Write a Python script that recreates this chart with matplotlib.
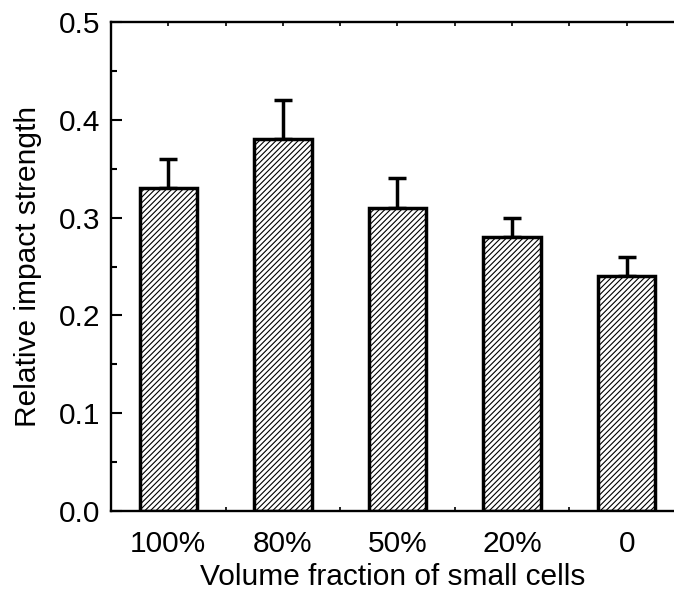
import numpy as np
import matplotlib.pyplot as plt
from matplotlib.ticker import MultipleLocator

plt.rcParams['font.family'] = ['Liberation Sans', 'DejaVu Sans']
plt.rcParams['hatch.linewidth'] = 0.8

labels = ['100%', '80%', '50%', '20%', '0']
strength = [0.33, 0.38, 0.31, 0.28, 0.24]
err_up = [0.03, 0.04, 0.03, 0.02, 0.02]

x = np.arange(1, len(labels) + 1)

fig = plt.figure(figsize=(6.74, 5.96), dpi=100)
ax = fig.add_axes([0.1647, 0.1426, 0.8353, 0.8205])

ax.bar(x, strength, width=0.5, color='white', edgecolor='black',
       linewidth=2.5, hatch='//////', zorder=2)
ax.errorbar(x, strength, yerr=[np.zeros(len(x)), err_up], fmt='none',
            ecolor='black', elinewidth=2.5, capsize=6.5, capthick=2.5, zorder=1)

ax.set_xlim(0.5, 5.413)
ax.set_ylim(0, 0.5)

ax.set_xticks(x)
ax.set_xticklabels(labels)
ax.xaxis.set_minor_locator(MultipleLocator(0.5))
ax.yaxis.set_major_locator(MultipleLocator(0.1))
ax.yaxis.set_minor_locator(MultipleLocator(0.05))
ax.yaxis.set_major_formatter(plt.FormatStrFormatter('%.1f'))

ax.spines['right'].set_visible(False)
for s in ['left', 'top', 'bottom']:
    ax.spines[s].set_linewidth(1.7)

ax.tick_params(axis='y', which='major', direction='in', length=8, width=1.5,
               labelsize=21.5, pad=8)
ax.tick_params(axis='y', which='minor', direction='in', length=4.5, width=1.5)
ax.tick_params(axis='x', which='both', direction='in', length=3, width=1.2,
               top=True, labelsize=21.5, pad=14)

ax.set_xlabel('Volume fraction of small cells', fontsize=21.5, labelpad=3)
ax.set_ylabel('Relative impact strength', fontsize=21.5, labelpad=12)

plt.savefig('out.png', dpi=100)
